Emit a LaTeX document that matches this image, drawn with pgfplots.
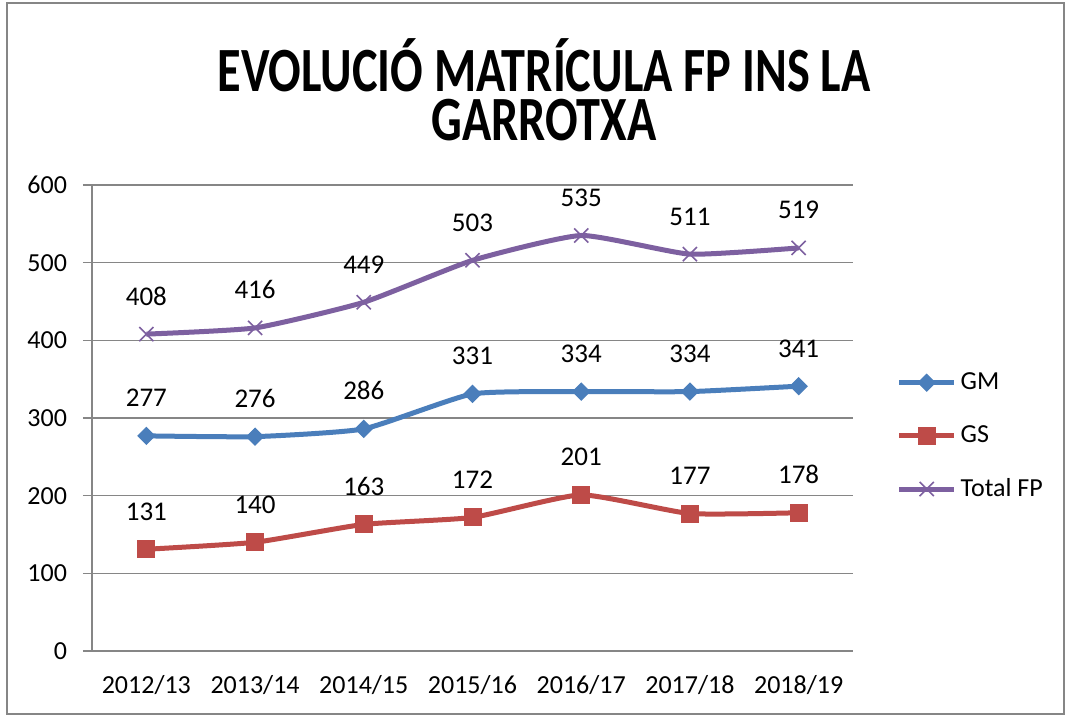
\documentclass[border=0pt]{standalone}
\usepackage{fontspec}
\setmainfont{Carlito}
\usepackage{graphicx}
\usepackage{pgfplots}
\pgfplotsset{compat=1.18}
\definecolor{gmblue}{RGB}{74,126,187}
\definecolor{gsred}{RGB}{190,75,72}
\definecolor{fppurple}{RGB}{125,96,160}
\definecolor{gridgrey}{RGB}{134,134,134}
\begin{document}
\begin{tikzpicture}
\path[use as bounding box] (0,0) rectangle (534.5pt,358.5pt);
\fill[white] (0,0) rectangle (534.5pt,358.5pt);
\draw[gridgrey, line width=0.8pt] (3.5pt,1.5pt) rectangle (532pt,357pt);
% title in one node, two lines
\node[font=\fontsize{30}{24.5}\selectfont\bfseries, align=center, anchor=south, inner sep=0pt]
  at (272pt,288pt) {\scalebox{0.805}[1.05]{EVOLUCIÓ MATRÍCULA FP INS LA}\\\scalebox{0.805}[1.05]{GARROTXA}};
\begin{axis}[
  at={(46pt,33pt)}, anchor=south west,
  scale only axis, width=380.5pt, height=233pt,
  xmin=-0.5, xmax=6.5, ymin=0, ymax=600,
  xtick={0,...,6},
  xticklabels={2012/13,2013/14,2014/15,2015/16,2016/17,2017/18,2018/19},
  minor xtick={-0.5,0.5,...,6.5},
  ytick={0,100,...,600},
  axis x line*=bottom, axis y line*=left,
  axis line style={gridgrey, line width=0.8pt, -},
  tick align=outside,
  major tick length=4.5pt, minor tick length=4pt,
  xtick style={draw=none},
  minor x tick style={gridgrey, line width=0.8pt},
  ytick style={gridgrey, line width=0.8pt},
  ymajorgrids, grid style={gridgrey, line width=0.8pt},
  tick label style={font=\fontsize{13}{15}\selectfont},
  xticklabel style={yshift=-4pt},
  yticklabel style={xshift=-4.5pt},
  /pgf/number format/assume math mode=true,
  nodes near coords,
  nodes near coords style={font=\fontsize{13.5}{15}\selectfont, text=black, anchor=base, yshift=14.5pt},
  legend style={draw=none, fill=none, at={(1.049,0.461)}, anchor=west,
    font=\fontsize{13}{15}\selectfont, row sep=12.5pt,
    /tikz/every even column/.append style={column sep=0pt}},
  legend cell align=left,
  legend image code/.code={\draw[mark repeat=2,mark phase=2] plot coordinates {(0pt,0pt) (13.75pt,0pt) (27.5pt,0pt)};},
]
\addplot[gmblue, line width=2.5pt, smooth, tension=0.3, mark=square*, mark size=3pt,
  mark options={rotate=45, fill=gmblue, draw=gmblue, line width=0.5pt}] coordinates {
  (0,277)(1,276)(2,286)(3,331)(4,334)(5,334)(6,341)
};
\addlegendentry{GM}
\addplot[gsred, line width=2.5pt, smooth, tension=0.3, mark=square*, mark size=4.25pt,
  mark options={fill=gsred, draw=gsred, line width=0.5pt}] coordinates {
  (0,131)(1,140)(2,163)(3,172)(4,201)(5,177)(6,178)
};
\addlegendentry{GS}
\addplot[fppurple, line width=2.5pt, smooth, tension=0.3, mark=x, mark size=5pt,
  mark options={draw=fppurple, line width=0.8pt}] coordinates {
  (0,408)(1,416)(2,449)(3,503)(4,535)(5,511)(6,519)
};
\addlegendentry{Total FP}
\end{axis}
\end{tikzpicture}
\end{document}
